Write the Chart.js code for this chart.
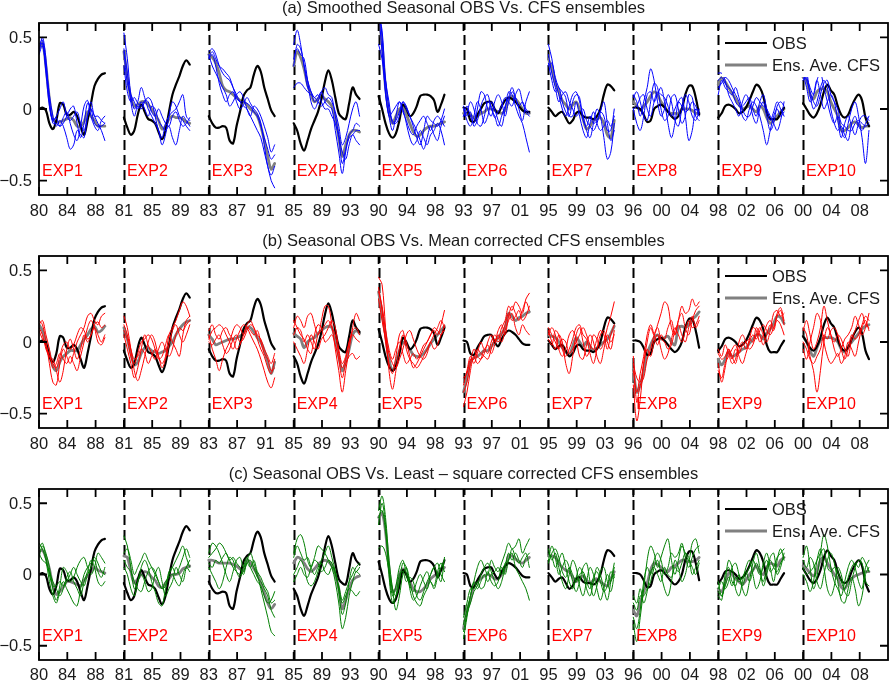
<!DOCTYPE html>
<html><head><meta charset="utf-8">
<script src="https://cdn.jsdelivr.net/npm/chart.js@4.4.0/dist/chart.umd.min.js"></script>
<style>
html,body{margin:0;padding:0;background:#fff;}
#wrap{position:relative;width:890px;height:681px;overflow:hidden;}
canvas{position:absolute;left:0;}
</style></head><body>
<div id="wrap">
<canvas id="cA" width="890" height="228" style="top:0px"></canvas>
<canvas id="cB" width="890" height="228" style="top:228px"></canvas>
<canvas id="cC" width="890" height="225" style="top:456px"></canvas>
</div>
<script>
// ---------- categories / ticks ----------
const expLabels = ['EXP1','EXP2','EXP3','EXP4','EXP5','EXP6','EXP7','EXP8','EXP9','EXP10'];
const startYears = [1980,1981,1983,1985,1990,1993,1995,1996,1998,2000];
const tickOffsets = [0,4,8];
const yTicks = [-0.5,0,0.5];
const titles = ['(a) Smoothed Seasonal OBS Vs. CFS ensembles',
                '(b) Seasonal OBS Vs. Mean corrected CFS ensembles',
                '(c) Seasonal OBS Vs. Least \u2013 square corrected CFS ensembles'];
const legendLabels = ['OBS','Ens. Ave. CFS'];

// ---------- observed series (one row per experiment window) ----------
const obsSeries = [
 [0,0.01,-0.01,-0.1,-0.14,-0.08,0.04,0.03,-0.04,-0.04,-0.02,-0.05,-0.12,-0.18,-0.08,0.04,0.16,0.21,0.24,0.25],
 [-0.06,-0.13,-0.18,-0.15,-0.04,0.03,-0.02,-0.07,-0.08,-0.1,-0.16,-0.21,-0.15,-0.02,0.1,0.17,0.23,0.3,0.34,0.31],
 [-0.05,-0.1,-0.13,-0.13,-0.12,-0.13,-0.22,-0.24,-0.12,-0.02,0.09,0.13,0.15,0.24,0.3,0.26,0.15,0.07,-0.01,-0.05],
 [-0.1,-0.15,-0.24,-0.29,-0.22,-0.14,-0.08,-0.02,0.07,0.19,0.27,0.2,0.08,-0.03,-0.06,-0.07,0.04,0.15,0.1,0.07],
 [0.09,0.0,-0.1,-0.17,-0.2,-0.17,-0.08,0.03,0.0,-0.05,-0.03,0.02,0.09,0.1,0.1,0.09,0.06,-0.02,0.03,0.1],
 [0.01,0.0,-0.08,-0.09,-0.04,0.0,0.04,0.05,0.05,0.0,-0.03,0.02,0.06,0.08,0.07,0.05,0.02,-0.01,-0.02,-0.02],
 [0.01,-0.02,-0.05,-0.03,-0.02,-0.06,-0.1,-0.08,-0.03,-0.02,-0.05,-0.06,-0.06,-0.07,-0.05,0.0,0.1,0.17,0.16,0.13],
 [0.01,0.01,0.0,-0.04,-0.09,-0.08,0.0,0.02,0.03,0.01,-0.02,-0.05,-0.07,-0.05,0.0,0.1,0.16,0.16,0.08,-0.04],
 [-0.06,-0.03,0.02,0.03,0.02,0.0,-0.03,-0.02,0.01,0.06,0.12,0.17,0.15,0.09,-0.02,-0.07,-0.07,-0.07,-0.03,0.01],
 [0.04,0.0,-0.04,-0.06,-0.03,0.03,0.12,0.17,0.13,0.1,0.02,-0.04,-0.06,-0.04,0.02,0.07,0.1,0.06,-0.06,-0.12]
];

// ---------- panel (a): smoothed CFS ----------
const aveA = [
 [0.42,0.46,0.3,0.07,-0.07,-0.09,-0.09,-0.08,-0.07,-0.06,-0.08,-0.12,-0.12,-0.09,-0.02,-0.05,-0.08,-0.12,-0.12,-0.12],
 [0.40,0.22,0.08,0.02,0.03,0.05,0.05,0.03,0.0,-0.04,-0.08,-0.14,-0.12,-0.07,-0.05,-0.06,-0.06,-0.07,-0.09,-0.10],
 [0.38,0.36,0.32,0.25,0.16,0.13,0.12,0.10,0.08,0.06,0.05,0.03,0.0,-0.02,-0.05,-0.12,-0.22,-0.33,-0.42,-0.38],
 [0.30,0.40,0.36,0.28,0.17,0.10,0.05,0.07,0.09,0.07,0.05,0.02,-0.06,-0.2,-0.33,-0.25,-0.18,-0.15,-0.15,-0.16],
 [0.65,0.45,0.15,-0.02,-0.10,-0.05,0.0,0.01,-0.04,-0.10,-0.16,-0.19,-0.18,-0.15,-0.13,-0.12,-0.12,-0.11,-0.1,-0.09],
 [-0.03,-0.03,-0.04,-0.06,-0.05,-0.03,-0.02,0.0,0.0,-0.01,-0.02,-0.03,-0.01,0.06,0.09,0.07,0.04,0.0,-0.03,-0.03],
 [0.35,0.28,0.18,0.12,0.06,0.03,0.0,0.03,0.05,0.0,-0.07,-0.14,-0.12,-0.08,-0.07,-0.06,-0.10,-0.18,-0.2,-0.08],
 [0.05,0.02,-0.01,0.02,0.05,0.09,0.12,0.10,0.05,0.02,-0.02,-0.03,-0.03,-0.03,0.0,0.0,0.0,-0.01,-0.03,-0.03],
 [0.17,0.22,0.19,0.15,0.11,0.07,0.03,0.0,0.01,0.02,0.0,-0.02,0.02,0.0,-0.06,-0.10,-0.08,-0.05,-0.02,0.0],
 [0.22,0.2,0.1,0.07,0.12,0.14,0.14,0.12,0.05,0.0,-0.05,-0.15,-0.15,-0.13,-0.10,-0.09,-0.11,-0.13,-0.12,-0.12]
];
const memA = [
 [[0.40,0.50,0.35,0.05,-0.08,-0.05,0.0,0.05,-0.05,-0.08,-0.05,-0.02,-0.10,-0.15,-0.05,0.0,-0.05,-0.1,-0.15,-0.22],
  [0.45,0.48,0.30,0.10,-0.05,-0.12,-0.08,-0.12,-0.20,-0.28,-0.25,-0.15,-0.18,-0.20,-0.05,0.05,-0.05,-0.05,-0.08,-0.1],
  [0.38,0.44,0.28,0.05,-0.10,-0.10,-0.12,-0.06,-0.02,-0.10,-0.18,-0.22,-0.12,0.02,0.06,-0.05,-0.12,-0.15,-0.08,-0.05],
  [0.42,0.46,0.25,0.02,-0.08,-0.06,-0.12,-0.10,-0.05,0.0,0.02,-0.10,-0.20,-0.10,0.04,0.0,-0.10,-0.12,-0.12,-0.10]],
 [[0.53,0.35,0.10,0.0,0.05,0.15,0.08,0.0,-0.05,-0.10,-0.15,-0.25,-0.18,-0.05,0.05,0.02,-0.05,-0.08,-0.12,-0.15],
  [0.42,0.25,0.05,-0.05,0.02,0.0,0.05,0.08,0.05,-0.05,-0.15,-0.20,-0.10,-0.05,-0.02,0.0,0.05,0.1,-0.05,-0.08],
  [0.40,0.18,0.10,0.05,0.0,0.05,0.0,-0.05,0.02,0.0,-0.08,-0.12,-0.15,-0.12,-0.2,-0.25,-0.15,-0.05,-0.08,-0.12],
  [0.30,0.12,0.05,0.08,0.04,0.02,0.06,0.05,-0.02,-0.05,0.0,-0.05,-0.10,-0.12,-0.05,-0.02,-0.08,-0.12,-0.1,-0.06]],
 [[0.40,0.42,0.38,0.30,0.25,0.22,0.20,0.15,0.10,0.05,0.02,0.0,-0.05,-0.10,-0.15,-0.20,-0.30,-0.40,-0.50,-0.55],
  [0.35,0.38,0.30,0.18,0.10,0.05,0.10,0.12,0.05,0.0,0.03,0.08,0.04,0.0,-0.03,-0.10,-0.25,-0.40,-0.46,-0.40],
  [0.38,0.30,0.25,0.20,0.15,0.10,0.02,0.05,0.10,0.12,0.08,0.0,-0.05,0.02,0.0,-0.05,-0.12,-0.2,-0.3,-0.25],
  [0.36,0.40,0.35,0.30,0.28,0.25,0.22,0.15,0.08,0.05,0.05,0.04,0.02,-0.02,-0.05,-0.12,-0.20,-0.28,-0.35,-0.32]],
 [[0.45,0.55,0.45,0.30,0.20,0.12,0.05,0.08,0.12,0.05,0.02,0.0,-0.15,-0.30,-0.45,-0.30,-0.20,-0.18,-0.15,-0.15],
  [0.35,0.42,0.38,0.35,0.20,0.05,0.0,0.05,0.12,0.15,0.10,0.08,-0.05,-0.18,-0.30,-0.35,-0.25,-0.18,-0.22,-0.25],
  [0.15,0.18,0.18,0.15,0.12,0.10,0.08,0.05,0.02,0.05,0.08,0.05,-0.02,-0.12,-0.25,-0.20,-0.10,0.0,0.05,-0.05],
  [0.30,0.45,0.42,0.30,0.15,0.12,0.08,0.10,0.05,0.0,0.0,-0.05,-0.10,-0.20,-0.38,-0.28,-0.18,-0.15,-0.10,-0.12]],
 [[0.75,0.50,0.10,-0.05,-0.15,-0.05,0.05,0.0,-0.10,-0.20,-0.25,-0.22,-0.15,-0.20,-0.25,-0.18,-0.15,-0.10,-0.15,-0.25],
  [0.70,0.40,0.20,0.0,-0.08,-0.10,-0.05,0.05,0.02,-0.05,-0.10,-0.15,-0.22,-0.28,-0.20,-0.12,-0.18,-0.22,-0.12,-0.05],
  [0.45,0.35,0.12,-0.05,-0.02,0.02,0.05,-0.02,-0.08,-0.15,-0.18,-0.12,-0.08,-0.05,-0.10,-0.15,-0.08,-0.05,-0.08,-0.12],
  [0.65,0.55,0.20,0.05,-0.10,-0.08,-0.02,0.05,0.0,-0.05,-0.12,-0.20,-0.25,-0.15,-0.05,-0.08,-0.10,-0.12,-0.08,0.0]],
 [[-0.05,0.02,-0.05,-0.10,0.0,0.12,0.10,0.0,-0.05,0.05,0.10,0.05,-0.05,0.05,0.12,0.08,0.0,-0.08,0.05,0.12],
  [0.0,-0.08,-0.12,-0.05,0.05,0.0,-0.10,-0.05,0.05,0.0,-0.08,-0.12,0.0,0.12,0.10,0.02,-0.05,-0.10,-0.20,-0.30],
  [-0.05,-0.02,0.05,0.0,-0.10,-0.12,-0.05,0.05,0.02,-0.06,-0.02,0.02,0.08,0.05,0.02,0.10,0.14,0.05,-0.02,-0.05],
  [0.02,-0.05,-0.02,-0.12,-0.08,0.02,0.08,0.10,0.0,-0.05,-0.12,-0.05,0.02,0.08,0.15,0.08,0.02,0.05,0.0,-0.03]],
 [[0.45,0.35,0.20,0.10,0.0,-0.05,0.02,0.10,0.12,0.05,-0.05,-0.15,-0.20,-0.10,0.0,-0.05,-0.20,-0.35,-0.30,-0.10],
  [0.30,0.32,0.22,0.15,0.12,0.08,-0.05,-0.05,0.05,-0.05,-0.15,-0.20,-0.10,-0.02,-0.10,-0.15,-0.12,-0.08,-0.12,-0.05],
  [0.38,0.25,0.15,0.05,0.10,0.12,0.05,0.0,-0.05,-0.02,0.0,-0.08,-0.12,-0.15,-0.10,-0.02,0.05,-0.10,-0.22,-0.15],
  [0.32,0.20,0.12,0.15,0.05,-0.02,-0.05,0.05,0.10,0.08,-0.08,-0.12,-0.05,-0.10,-0.08,-0.02,-0.05,-0.15,-0.15,0.0]],
 [[0.10,0.05,-0.05,0.05,0.15,0.28,0.20,0.05,-0.05,0.0,0.10,0.05,-0.08,-0.12,0.0,0.10,0.05,-0.05,-0.08,0.0],
  [0.0,-0.10,-0.15,-0.05,0.10,0.12,0.05,0.10,0.15,0.05,-0.10,-0.20,-0.10,0.05,0.08,-0.05,-0.22,-0.15,0.0,-0.05],
  [0.08,0.12,0.05,-0.05,-0.08,0.05,0.18,0.15,0.0,-0.08,-0.05,0.08,0.10,0.0,-0.10,-0.05,0.10,0.08,-0.05,-0.08],
  [0.0,0.02,0.08,0.10,0.0,-0.05,0.05,0.12,0.10,0.08,0.02,-0.05,0.0,0.05,0.02,-0.02,0.0,0.05,0.02,-0.03]],
 [[0.25,0.25,0.20,0.10,0.05,0.0,-0.05,0.05,0.10,0.05,-0.05,-0.10,0.0,0.05,-0.05,-0.15,-0.10,0.02,0.05,0.02],
  [0.15,0.18,0.22,0.20,0.15,0.10,0.05,-0.05,-0.08,0.0,0.05,0.02,-0.05,-0.15,-0.25,-0.15,-0.05,0.0,-0.05,-0.02],
  [0.10,0.20,0.15,0.12,0.10,0.15,0.08,0.0,-0.05,-0.05,0.02,0.08,0.05,0.02,0.0,-0.05,-0.10,-0.15,-0.08,0.05],
  [0.20,0.22,0.18,0.15,0.12,0.05,0.02,0.02,0.05,0.08,0.0,-0.05,0.05,0.10,0.0,-0.08,-0.02,0.05,0.0,-0.05]],
 [[0.25,0.22,0.15,0.10,0.20,0.25,0.15,0.05,-0.05,-0.10,-0.05,-0.15,-0.20,-0.10,0.0,0.05,-0.05,-0.20,-0.38,-0.15],
  [0.25,0.15,0.05,0.10,0.20,0.10,0.0,0.05,0.10,0.05,-0.08,-0.20,-0.10,-0.05,-0.12,-0.18,-0.10,-0.05,-0.05,-0.08],
  [0.20,0.25,0.10,0.0,0.05,0.15,0.20,0.15,0.0,-0.10,-0.15,-0.12,-0.18,-0.22,-0.10,-0.05,-0.12,-0.15,-0.10,-0.05],
  [0.25,0.20,0.12,0.05,0.02,0.10,0.18,0.20,0.10,0.05,0.0,-0.10,-0.12,-0.15,-0.15,-0.10,-0.08,-0.10,-0.12,-0.10]]
];

// ---------- panel (b): mean corrected CFS ----------
const aveB = [
 [0.12,0.08,0.0,-0.08,-0.17,-0.2,-0.14,-0.1,-0.08,-0.06,-0.06,-0.06,-0.02,0.02,0.05,0.09,0.11,0.07,0.08,0.11],
 [0.10,0.02,-0.08,-0.16,-0.14,-0.08,-0.04,-0.04,-0.06,-0.07,-0.08,-0.07,-0.06,-0.03,0.0,0.05,0.09,0.12,0.14,0.15],
 [0.05,0.02,-0.02,-0.01,0.0,0.01,0.02,0.02,0.03,0.04,0.06,0.1,0.1,0.07,0.03,0.0,-0.06,-0.14,-0.22,-0.14],
 [0.06,0.04,0.02,-0.04,0.0,0.02,0.03,0.06,0.08,0.1,0.11,0.1,0.02,-0.1,-0.2,-0.14,-0.05,0.05,0.08,0.06],
 [0.35,0.2,0.05,-0.12,-0.2,-0.14,-0.06,0.0,-0.02,-0.05,-0.09,-0.1,-0.1,-0.08,-0.05,-0.01,0.02,0.05,0.08,0.11],
 [-0.35,-0.25,-0.14,-0.11,-0.1,-0.08,-0.06,-0.06,-0.03,0.0,0.03,0.06,0.1,0.2,0.18,0.15,0.17,0.18,0.2,0.21],
 [0.05,0.04,0.03,0.0,-0.04,-0.07,-0.09,-0.03,0.03,0.0,-0.03,0.0,-0.03,-0.06,-0.04,-0.02,0.0,0.02,0.06,0.11],
 [-0.19,-0.35,-0.3,-0.2,-0.08,-0.02,0.03,0.05,0.02,0.03,0.04,0.0,-0.02,0.1,0.11,0.1,0.12,0.16,0.18,0.21],
 [-0.12,-0.16,-0.12,-0.07,-0.1,-0.09,-0.07,-0.05,-0.04,-0.01,0.02,0.05,0.05,0.02,0.06,0.09,0.13,0.18,0.17,0.13],
 [0.04,0.0,-0.06,-0.1,-0.04,0.01,0.03,0.03,0.03,0.02,0.0,-0.05,-0.07,-0.03,0.0,0.03,0.06,0.09,0.11,0.12]
];
const memB = [
 [[0.15,0.12,0.0,-0.15,-0.28,-0.30,-0.15,-0.05,-0.10,-0.15,-0.08,0.0,0.05,0.10,0.18,0.20,0.15,0.12,0.18,0.20],
  [0.10,0.05,-0.05,-0.10,-0.12,-0.20,-0.28,-0.20,-0.05,0.02,-0.05,-0.12,-0.05,0.05,0.0,0.05,0.10,0.05,0.0,0.05],
  [0.12,0.15,0.05,-0.05,-0.18,-0.15,-0.08,-0.12,-0.15,-0.10,-0.15,-0.20,-0.10,0.0,0.10,0.15,0.10,0.0,-0.02,0.03],
  [0.08,0.02,-0.02,-0.10,-0.15,-0.18,-0.10,-0.02,0.0,-0.05,-0.02,0.05,0.10,0.08,0.02,0.05,0.12,0.14,0.10,0.12]],
 [[0.18,0.10,-0.05,-0.20,-0.27,-0.20,-0.10,0.0,0.05,0.0,-0.10,-0.15,-0.10,0.05,0.10,0.15,0.22,0.28,0.25,0.18],
  [0.05,-0.05,-0.15,-0.25,-0.18,-0.05,0.05,-0.02,-0.08,-0.12,-0.05,0.0,-0.05,-0.10,-0.05,0.05,0.10,0.08,0.12,0.15],
  [0.12,0.05,-0.05,-0.12,-0.10,-0.05,-0.08,-0.15,-0.10,-0.05,-0.10,-0.18,-0.12,-0.02,0.08,0.12,0.05,0.0,0.05,0.12],
  [0.08,0.02,-0.10,-0.15,-0.08,0.0,0.02,0.05,0.02,-0.05,-0.12,-0.10,-0.02,0.05,0.0,-0.05,-0.10,0.05,0.15,0.18]],
 [[0.02,0.08,0.10,0.12,0.10,0.05,0.0,-0.05,0.02,0.08,0.12,0.10,0.05,0.0,-0.05,-0.12,-0.20,-0.28,-0.32,-0.25],
  [0.05,-0.05,-0.12,-0.20,-0.12,-0.05,0.0,0.08,0.12,0.10,0.05,0.12,0.15,0.10,0.05,0.02,-0.05,-0.10,-0.15,-0.08],
  [0.08,0.12,0.05,0.02,0.08,0.10,0.05,0.02,-0.05,-0.02,0.05,0.10,0.08,0.05,0.08,0.0,-0.08,-0.12,-0.20,-0.18],
  [0.0,-0.02,0.02,0.05,-0.02,-0.08,-0.05,0.02,0.05,0.0,0.02,0.08,0.12,0.10,0.02,-0.05,-0.10,-0.18,-0.22,-0.12]],
 [[0.10,0.18,0.15,0.10,0.18,0.20,0.12,0.05,0.15,0.25,0.25,0.12,-0.05,-0.20,-0.35,-0.20,-0.05,0.10,0.20,0.15],
  [0.0,-0.05,-0.10,-0.15,-0.05,0.05,0.0,-0.05,0.02,0.05,0.10,0.15,0.10,-0.05,-0.15,-0.10,0.0,0.05,0.02,0.0],
  [0.15,0.10,0.05,0.02,-0.05,-0.08,0.05,0.12,0.10,0.0,0.02,0.05,-0.02,-0.12,-0.25,-0.15,-0.10,-0.08,-0.12,-0.10],
  [0.05,0.10,0.08,0.0,0.05,0.0,-0.05,0.05,0.08,0.12,0.15,0.10,0.05,-0.08,-0.18,-0.12,0.0,0.08,0.10,0.05]],
 [[0.45,0.40,0.10,-0.20,-0.33,-0.20,-0.05,0.05,0.0,-0.10,-0.18,-0.15,-0.10,-0.05,0.0,0.05,0.08,0.05,0.12,0.22],
  [0.38,0.22,0.0,-0.15,-0.22,-0.10,0.05,0.08,-0.05,-0.12,-0.15,-0.18,-0.15,-0.10,-0.05,0.0,0.05,0.10,0.15,0.10],
  [0.30,0.15,0.02,-0.08,-0.15,-0.18,-0.12,-0.05,0.05,0.08,0.02,-0.05,-0.10,-0.12,-0.08,0.0,-0.05,-0.02,0.05,0.08],
  [0.35,0.25,0.08,-0.05,-0.12,-0.05,0.0,-0.08,-0.15,-0.12,-0.08,-0.12,-0.08,-0.02,0.0,0.05,0.10,0.08,0.05,0.12]],
 [[-0.45,-0.35,-0.20,-0.10,-0.15,-0.12,-0.05,-0.08,0.0,0.05,0.02,0.10,0.15,0.25,0.22,0.28,0.25,0.20,0.30,0.34],
  [-0.30,-0.20,-0.10,-0.15,-0.08,0.0,-0.05,-0.02,-0.08,-0.02,0.05,0.0,0.08,0.15,0.20,0.10,0.05,0.12,0.08,0.05],
  [-0.35,-0.28,-0.15,-0.05,-0.10,-0.12,-0.08,0.0,0.05,0.0,0.08,0.12,0.05,0.18,0.25,0.20,0.15,0.22,0.28,0.22],
  [-0.25,-0.22,-0.12,-0.12,-0.05,-0.08,-0.10,-0.12,-0.05,0.02,0.0,0.05,0.12,0.20,0.15,0.18,0.22,0.15,0.18,0.25]],
 [[0.08,0.0,-0.05,0.05,0.0,-0.15,-0.22,-0.10,0.05,0.10,0.0,-0.10,-0.05,0.05,0.02,-0.05,0.0,0.10,0.18,0.28],
  [0.05,0.10,0.05,-0.05,-0.10,-0.05,0.05,0.08,0.02,-0.10,-0.12,-0.02,0.05,0.0,-0.10,-0.15,-0.05,0.05,0.0,0.05],
  [0.02,-0.02,0.08,0.05,-0.05,-0.10,-0.05,0.02,0.10,0.12,0.05,0.02,-0.08,-0.15,-0.05,0.05,0.08,0.0,-0.05,0.08],
  [0.10,0.05,0.0,-0.05,0.02,0.0,-0.08,-0.05,0.0,0.05,0.10,0.05,-0.02,-0.05,0.02,0.08,0.05,-0.05,0.05,0.12]],
 [[-0.30,-0.55,-0.40,-0.15,0.0,0.10,0.05,0.12,0.20,0.28,0.25,0.10,0.05,0.15,0.25,0.20,0.22,0.30,0.25,0.28],
  [-0.15,-0.25,-0.28,-0.15,-0.05,-0.10,0.0,0.05,-0.05,-0.12,-0.08,0.02,0.10,0.05,0.0,0.08,0.15,0.10,0.12,0.18],
  [-0.20,-0.35,-0.22,-0.10,0.05,0.12,0.05,-0.02,0.05,0.02,0.10,0.15,0.05,0.15,0.20,0.10,0.05,0.15,0.22,0.25],
  [-0.10,-0.42,-0.30,-0.25,-0.12,-0.05,0.05,0.10,0.02,0.0,-0.05,-0.02,0.08,0.12,0.05,0.0,0.10,0.18,0.10,0.15]],
 [[-0.15,-0.28,-0.18,-0.05,-0.10,-0.15,-0.05,0.0,-0.05,0.02,0.10,0.08,0.0,0.05,0.12,0.15,0.10,0.20,0.24,0.15],
  [-0.05,-0.10,-0.02,-0.08,-0.15,-0.12,0.0,0.05,0.0,-0.05,-0.02,0.05,0.10,0.05,0.0,0.08,0.20,0.22,0.18,0.20],
  [-0.20,-0.25,-0.15,-0.10,-0.05,-0.02,-0.10,-0.15,-0.08,0.0,0.05,0.02,0.08,0.12,0.08,0.05,0.10,0.15,0.12,0.05],
  [-0.08,-0.12,-0.10,-0.05,-0.12,-0.05,-0.08,-0.02,0.0,0.02,0.0,0.10,0.05,-0.02,0.05,0.12,0.08,0.18,0.22,0.12]],
 [[0.10,0.05,-0.10,-0.20,-0.35,-0.20,0.0,0.10,0.05,-0.05,-0.10,-0.05,0.02,0.05,0.10,0.18,0.12,0.05,0.10,0.20],
  [-0.05,-0.12,0.0,0.10,0.20,0.15,0.0,-0.10,-0.15,-0.12,-0.08,-0.15,-0.10,0.0,-0.05,-0.10,0.0,0.10,0.15,0.08],
  [0.08,0.15,0.05,-0.05,0.0,0.10,0.25,0.15,0.05,0.0,0.05,0.02,-0.05,-0.10,0.02,0.08,0.15,0.20,0.12,0.10],
  [0.0,-0.05,-0.12,-0.15,-0.10,-0.05,0.05,0.02,0.08,0.10,0.05,-0.05,-0.12,-0.05,0.05,0.02,0.05,0.12,0.18,0.15]]
];

// ---------- panel (c): least-square corrected CFS ----------
const aveC = [
 [0.16,0.17,0.12,0.04,-0.08,-0.14,-0.12,-0.09,-0.05,-0.05,-0.06,-0.07,-0.08,-0.04,-0.01,0.02,0.05,0.03,0.02,0.01],
 [0.13,0.12,0.02,-0.06,-0.03,0.0,0.02,0.01,-0.02,-0.04,-0.08,-0.09,-0.06,-0.03,0.0,0.0,0.01,0.04,0.05,0.06],
 [0.1,0.1,0.09,0.08,0.08,0.08,0.08,0.07,0.06,0.04,0.03,0.1,0.08,0.04,0.0,-0.06,-0.13,-0.2,-0.24,-0.21],
 [0.08,0.12,0.11,0.08,0.04,0.02,0.04,0.07,0.09,0.1,0.09,0.06,0.0,-0.1,-0.24,-0.18,-0.1,-0.04,-0.02,-0.01],
 [0.40,0.43,0.30,0.05,-0.12,-0.1,0.0,0.04,0.0,-0.05,-0.1,-0.12,-0.12,-0.1,-0.07,-0.03,-0.01,0.01,0.03,0.05],
 [-0.38,-0.25,-0.18,-0.08,-0.05,-0.03,-0.01,0.0,-0.01,-0.03,-0.03,0.0,0.03,0.13,0.13,0.11,0.09,0.08,0.1,0.12],
 [0.13,0.13,0.12,0.08,0.05,0.03,0.02,-0.02,-0.05,-0.03,-0.01,-0.04,-0.06,-0.04,-0.03,-0.05,-0.07,-0.08,-0.03,0.02],
 [-0.25,-0.29,-0.2,-0.12,-0.06,0.03,0.08,0.07,0.05,0.03,0.02,0.05,0.06,0.08,0.1,0.1,0.09,0.09,0.1,0.12],
 [-0.1,-0.12,-0.06,0.01,0.0,-0.03,-0.05,-0.07,-0.04,0.0,0.03,0.06,0.02,0.0,0.05,0.08,0.07,0.06,0.1,0.12],
 [0.06,0.04,0.01,-0.01,0.03,0.1,0.12,0.08,0.04,0.0,-0.03,-0.09,-0.1,-0.06,-0.03,-0.01,0.0,0.01,0.02,0.02]
];
const memC = [
 [[0.22,0.18,0.10,-0.05,-0.15,-0.20,-0.12,-0.05,-0.10,-0.15,-0.20,-0.22,-0.10,0.0,0.05,0.08,0.10,0.02,-0.02,0.05],
  [0.12,0.20,0.15,0.05,-0.10,-0.18,-0.08,0.05,0.02,-0.05,-0.02,0.05,0.10,0.12,0.05,0.0,0.05,0.15,0.12,0.08],
  [0.15,0.10,0.08,0.02,-0.05,-0.10,-0.15,-0.10,-0.02,0.02,-0.05,-0.10,-0.15,-0.05,0.02,0.10,0.05,-0.05,-0.08,-0.05],
  [0.18,0.22,0.12,0.0,-0.08,-0.08,-0.05,-0.08,-0.05,0.0,0.05,0.0,-0.05,-0.08,0.0,0.05,0.12,0.08,0.02,0.0]],
 [[0.27,0.20,0.05,-0.10,-0.05,0.05,0.10,0.05,-0.05,-0.12,-0.20,-0.22,-0.10,0.0,0.05,0.10,0.15,0.20,0.12,0.05],
  [0.05,0.0,-0.10,-0.15,-0.05,0.0,-0.05,-0.12,-0.10,0.0,0.05,-0.05,-0.15,-0.10,-0.05,0.05,0.0,-0.05,0.05,0.10],
  [0.15,0.18,0.10,0.0,0.05,0.10,0.15,0.10,0.05,0.0,-0.05,-0.10,-0.08,0.02,0.05,0.0,0.05,0.12,0.18,0.12],
  [0.10,0.05,0.02,-0.05,-0.10,-0.12,-0.05,0.02,0.05,0.02,-0.05,-0.10,-0.05,-0.02,0.0,-0.05,-0.08,0.0,0.05,0.02]],
 [[0.15,0.22,0.20,0.15,0.08,0.0,-0.05,0.02,0.10,0.12,0.05,0.10,0.15,0.08,0.0,-0.10,-0.20,-0.30,-0.40,-0.43],
  [0.05,0.0,-0.05,-0.10,-0.05,0.05,0.12,0.10,0.02,-0.02,0.05,0.12,0.05,0.0,-0.05,-0.08,-0.15,-0.20,-0.18,-0.12],
  [0.12,0.15,0.18,0.22,0.20,0.15,0.10,0.05,0.02,0.0,0.02,0.08,0.10,0.05,-0.02,-0.05,-0.10,-0.15,-0.25,-0.30],
  [0.08,0.05,0.10,0.08,0.12,0.15,0.10,0.12,0.08,0.05,0.0,0.08,0.05,0.10,0.02,-0.02,-0.08,-0.12,-0.20,-0.18]],
 [[0.15,0.25,0.28,0.22,0.10,0.05,0.12,0.20,0.18,0.15,0.10,0.05,-0.05,-0.20,-0.38,-0.30,-0.15,-0.05,0.02,0.0],
  [0.0,0.05,0.10,0.05,-0.05,-0.08,-0.05,0.02,0.10,0.15,0.20,0.12,0.02,-0.10,-0.20,-0.15,-0.10,-0.12,-0.15,-0.12],
  [0.12,0.20,0.15,0.10,0.12,0.05,0.0,0.05,0.08,0.02,0.0,0.05,0.02,-0.12,-0.28,-0.20,-0.05,0.05,0.02,0.05],
  [-0.05,0.0,0.05,0.0,-0.02,0.05,0.10,0.08,0.02,0.05,0.10,0.08,0.0,-0.08,-0.18,-0.12,-0.05,0.0,0.05,0.08]],
 [[0.45,0.55,0.40,0.10,-0.10,-0.25,-0.15,0.0,0.05,-0.05,-0.15,-0.20,-0.22,-0.15,-0.10,-0.05,-0.10,-0.02,0.05,0.10],
  [0.40,0.45,0.30,0.05,-0.15,-0.08,0.05,0.10,0.0,-0.08,-0.12,-0.05,0.0,-0.05,-0.10,0.0,0.05,0.0,-0.05,0.12],
  [0.18,0.20,0.15,0.02,-0.10,-0.15,-0.05,0.08,0.05,-0.10,-0.18,-0.15,-0.08,-0.02,0.02,-0.05,-0.08,0.02,0.08,0.02],
  [0.35,0.50,0.35,0.0,-0.20,-0.15,0.0,0.02,-0.05,-0.02,-0.05,-0.15,-0.18,-0.12,-0.05,0.0,0.05,0.08,0.0,-0.05]],
 [[-0.45,-0.30,-0.15,-0.05,0.05,0.10,0.05,0.0,0.10,0.05,0.02,0.08,0.15,0.22,0.18,0.20,0.25,0.15,0.20,0.25],
  [-0.30,-0.20,-0.10,-0.10,-0.05,-0.10,-0.08,0.02,-0.05,-0.08,-0.05,0.05,0.0,0.10,0.15,0.05,0.0,-0.05,-0.10,-0.18],
  [-0.40,-0.28,-0.20,-0.12,-0.08,0.0,0.05,0.08,0.02,-0.05,-0.10,-0.05,0.05,0.15,0.10,0.15,0.10,0.05,0.12,0.15],
  [-0.35,-0.25,-0.15,-0.05,-0.10,-0.05,0.0,-0.05,0.0,0.02,0.05,0.0,0.08,0.10,0.18,0.12,0.08,0.12,0.15,0.05]],
 [[0.18,0.10,0.15,0.05,-0.05,-0.10,0.0,0.10,0.05,-0.08,-0.15,-0.05,0.05,0.0,-0.10,-0.18,-0.10,0.0,-0.05,0.05],
  [0.10,0.20,0.12,0.0,0.05,0.10,0.05,-0.05,-0.12,-0.05,0.05,0.08,-0.05,-0.15,-0.08,0.02,0.05,-0.05,-0.12,0.0],
  [0.15,0.12,0.05,0.10,0.15,0.05,-0.05,-0.10,-0.02,0.05,0.0,-0.10,-0.15,-0.05,0.05,0.0,-0.10,-0.18,-0.05,0.08],
  [0.08,0.15,0.18,0.12,0.02,-0.02,0.05,0.0,-0.05,0.0,0.02,-0.05,-0.10,-0.02,0.02,-0.05,-0.12,-0.08,0.02,-0.02]],
 [[-0.35,-0.47,-0.30,-0.10,0.10,0.20,0.15,0.05,0.12,0.20,0.25,0.10,0.0,0.10,0.20,0.15,0.10,0.22,0.25,0.15],
  [-0.20,-0.25,-0.15,-0.15,-0.10,-0.05,0.05,0.10,0.0,-0.10,-0.15,-0.05,0.10,0.05,-0.05,0.0,0.10,0.05,0.0,0.08],
  [-0.30,-0.38,-0.25,-0.05,0.05,0.0,0.10,0.15,0.10,0.0,0.05,0.15,0.12,0.15,0.22,0.12,0.05,0.12,0.18,0.20],
  [-0.15,-0.20,-0.10,-0.20,-0.12,0.02,0.05,0.0,-0.05,0.05,0.0,-0.02,0.05,0.02,0.08,0.15,0.12,0.0,0.05,0.10]],
 [[-0.05,-0.15,-0.05,0.10,0.05,-0.10,-0.15,-0.05,0.05,0.10,0.0,-0.10,-0.05,0.08,0.15,0.05,-0.05,0.10,0.18,0.10],
  [-0.15,-0.18,0.0,0.05,-0.05,-0.08,0.0,-0.10,-0.15,-0.05,0.08,0.15,0.05,-0.08,0.0,0.12,0.15,0.0,0.05,0.15],
  [-0.10,-0.05,-0.10,-0.05,0.05,0.08,0.0,-0.08,0.0,0.05,0.10,0.05,0.0,0.05,0.10,0.02,0.05,0.12,0.15,0.18],
  [-0.12,-0.15,-0.08,-0.02,-0.08,-0.02,-0.05,-0.02,0.02,-0.05,0.02,0.08,0.02,-0.05,0.05,0.10,0.05,0.02,0.08,0.12]],
 [[0.12,0.20,0.05,-0.10,-0.02,0.15,0.28,0.20,0.05,-0.05,-0.10,-0.15,-0.05,0.05,0.10,0.05,-0.05,-0.10,0.05,0.10],
  [0.0,-0.05,-0.12,-0.05,0.10,0.18,0.05,-0.10,-0.15,-0.08,0.05,0.0,-0.12,-0.15,-0.05,0.05,0.10,0.08,-0.05,-0.08],
  [0.10,0.05,0.12,0.08,-0.05,-0.10,0.0,0.10,0.15,0.08,-0.05,-0.18,-0.20,-0.10,-0.02,-0.10,-0.22,-0.15,0.0,0.05],
  [0.05,0.0,0.02,0.05,0.10,0.15,0.18,0.05,0.02,0.05,0.02,-0.05,-0.10,-0.02,0.05,0.08,0.05,0.12,0.08,0.02]]
];

// ---------- layout constants ----------
const SEG = 12;      // x-axis years allotted to each experiment window
const STEP = 0.49;   // years between successive samples
const FONT = '"Liberation Sans", Arial, Helvetica, sans-serif';
const TXT = '#1a1a1a';

function buildDatasets(ave, mem, color) {
  const ds = [];
  const pts = (arr, i) => arr.map((v, k) => ({x: SEG * i + k * STEP, y: v}));
  for (let i = 0; i < expLabels.length; i++) {
    mem[i].forEach(m => ds.push({data: pts(m, i), borderColor: color, borderWidth: 1}));
    ds.push({data: pts(obsSeries[i], i), borderColor: '#000000', borderWidth: 2.2});
    ds.push({data: pts(ave[i], i), borderColor: '#808080', borderWidth: 2.8});
  }
  return ds;
}

const decor = {
  id: 'decor',
  beforeDatasetsDraw(chart) {
    const {ctx, chartArea: a, scales: {x}} = chart;
    ctx.save();
    ctx.strokeStyle = '#000'; ctx.lineWidth = 2; ctx.setLineDash([10, 5]);
    for (let i = 1; i < expLabels.length; i++) {
      const px = Math.round(x.getPixelForValue(SEG * i)) + 0.5;
      ctx.beginPath(); ctx.moveTo(px, a.bottom); ctx.lineTo(px, a.top); ctx.stroke();
    }
    ctx.restore();
  },
  afterDatasetsDraw(chart) {
    const {ctx, chartArea: a, scales: {x, y}} = chart;
    const o = chart.options.plugins.decor;
    ctx.save();
    // experiment labels
    ctx.fillStyle = '#ff0000'; ctx.font = '16px ' + FONT;
    ctx.textAlign = 'left'; ctx.textBaseline = 'alphabetic';
    expLabels.forEach((t, i) => ctx.fillText(t, x.getPixelForValue(SEG * i) + 3, y.getPixelForValue(-0.47)));
    // legend
    if (o.box) { ctx.fillStyle = '#fff'; ctx.fillRect(a.right - 166, a.top + o.box[0], 164, o.box[1] - o.box[0]); }
    ctx.font = '16.5px ' + FONT; ctx.textBaseline = 'middle';
    [['#000000', 2.2], ['#808080', 2.8]].forEach((s, r) => {
      const ly = a.top + 20 + r * 22;
      ctx.strokeStyle = s[0]; ctx.lineWidth = s[1];
      ctx.beginPath(); ctx.moveTo(a.right - 163, ly); ctx.lineTo(a.right - 121, ly); ctx.stroke();
      ctx.fillStyle = TXT; ctx.fillText(legendLabels[r], a.right - 116, ly + 1);
    });
    // frame
    ctx.strokeStyle = '#000'; ctx.lineWidth = 1.8;
    ctx.strokeRect(a.left, a.top, a.right - a.left, a.bottom - a.top);
    // ticks
    ctx.beginPath();
    yTicks.forEach(v => {
      const py = y.getPixelForValue(v);
      ctx.moveTo(a.left, py); ctx.lineTo(a.left + 8, py);
      ctx.moveTo(a.right, py); ctx.lineTo(a.right - 8, py);
    });
    expLabels.forEach((_, i) => tickOffsets.forEach(off => {
      const px = x.getPixelForValue(SEG * i + off);
      ctx.moveTo(px, a.top); ctx.lineTo(px, a.top + 8);
      ctx.moveTo(px, a.bottom); ctx.lineTo(px, a.bottom - 8);
    }));
    ctx.stroke();
    // tick labels
    ctx.fillStyle = TXT; ctx.font = '16.5px ' + FONT;
    ctx.textAlign = 'right'; ctx.textBaseline = 'middle';
    yTicks.forEach(v => ctx.fillText(v === 0 ? '0' : (v < 0 ? '\u2212' : '') + Math.abs(v).toFixed(1), a.left - 7, y.getPixelForValue(v) + 1));
    ctx.textAlign = 'center'; ctx.textBaseline = 'alphabetic';
    expLabels.forEach((_, i) => tickOffsets.forEach(off => {
      const yr = (startYears[i] + off) % 100;
      ctx.fillText(String(yr).padStart(2, '0'), x.getPixelForValue(SEG * i + off), a.bottom + o.lab);
    }));
    // title
    ctx.fillText(o.title, (a.left + a.right) / 2, a.top - 10);
    ctx.restore();
  }
};

function makeChart(id, ave, mem, color, title, padTop, padBottom, box, lab) {
  return new Chart(document.getElementById(id), {
    type: 'line',
    data: {datasets: buildDatasets(ave, mem, color)},
    options: {
      responsive: false, animation: false, events: [], devicePixelRatio: 1,
      layout: {padding: {left: 39, right: 2, top: padTop, bottom: padBottom}},
      scales: {
        x: {type: 'linear', display: false, min: 0, max: SEG * expLabels.length},
        y: {type: 'linear', display: false, min: -0.6, max: 0.6}
      },
      elements: {point: {radius: 0}, line: {tension: 0.35, borderCapStyle: 'round', borderJoinStyle: 'round'}},
      plugins: {legend: {display: false}, tooltip: {enabled: false}, decor: {title: title, box: box, lab: lab}}
    },
    plugins: [decor]
  });
}

makeChart('cA', aveA, memA, '#0000ff', titles[0], 23, 33, [1, 54], 21);
makeChart('cB', aveB, memB, '#ff0000', titles[1], 28, 28, [9, 50], 21);
makeChart('cC', aveC, memC, '#007f00', titles[2], 33, 21, null, 19.5);
</script>
</body></html>
